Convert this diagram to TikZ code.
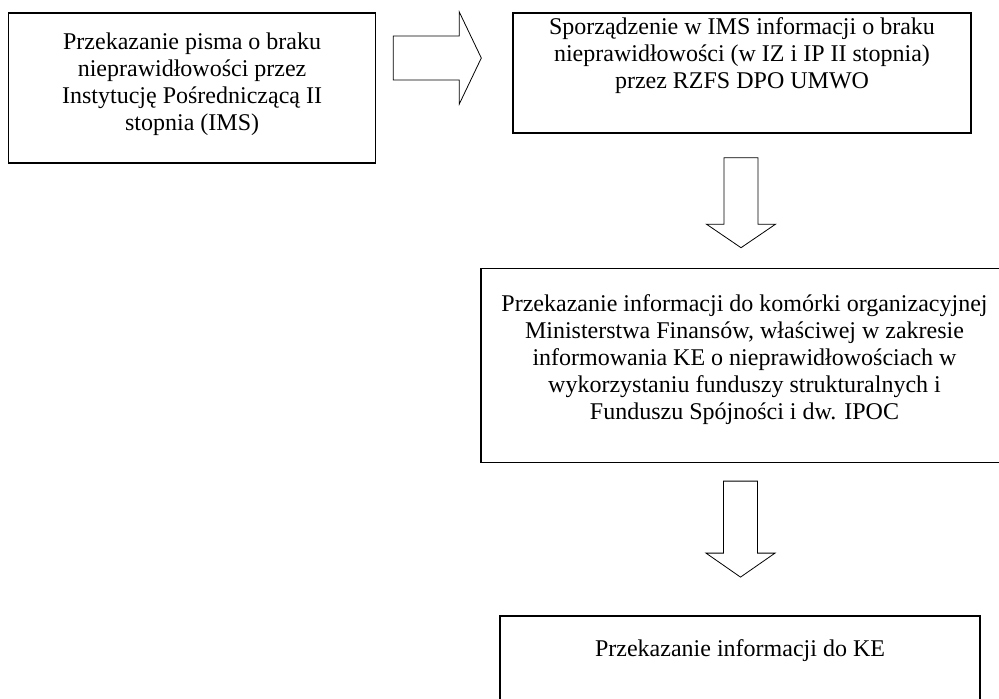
\documentclass[tikz,border=0pt]{standalone}
\usepackage{fontspec}
\setmainfont{Liberation Serif}
\usetikzlibrary{positioning, calc}
\tikzstyle{box} = [rectangle, draw=black, line width=0.7pt, inner sep=0pt]
\tikzstyle{txt} = [align=center, inner sep=0pt, font=\fontsize{12}{13.5}\selectfont]
% hollow block arrow: shaft half width, head half width, head length
\tikzset{fatarrow/.style n args={3}{draw, line width=0.4pt, to path={
  ($(\tikztostart)!#1!90:(\tikztotarget)$)
  -- ($(\tikztotarget)!#3!(\tikztostart)!#1!90:(\tikztotarget)$)
  -- ($(\tikztotarget)!#3!(\tikztostart)!#2!90:(\tikztotarget)$)
  -- (\tikztotarget)
  -- ($(\tikztotarget)!#3!(\tikztostart)!#2!-90:(\tikztotarget)$)
  -- ($(\tikztotarget)!#3!(\tikztostart)!#1!-90:(\tikztotarget)$)
  -- ($(\tikztostart)!#1!-90:(\tikztotarget)$)
  -- cycle}}}

\begin{document}
\begin{tikzpicture}[x=0.5pt, y=-0.5pt]
\useasboundingbox (0,0) rectangle (999,698);

\node (b2) [box, minimum width=229pt, minimum height=60pt] at (742,73) {};
\node (b1) [box, minimum width=183.5pt, minimum height=75pt, left=68pt of b2, yshift=-7.5pt] {};
\node (b3) [box, minimum width=270pt, minimum height=97pt, below=67pt of b2, xshift=4.5pt] {};
\node (b4) [box, minimum width=240pt, minimum height=50pt, below=76pt of b3, xshift=-5.5pt] {};

\node (t1) [txt, below=10pt of b1.north] {Przekazanie pisma o braku\\ nieprawidłowości przez\\ Instytucję Pośredniczącą II\\ stopnia (IMS)};
\node (t2) [txt, below=2.5pt of b2.north] {Sporządzenie w IMS informacji o braku\\ nieprawidłowości (w IZ i IP II stopnia)\\ przez RZFS DPO UMWO};
\node (t3) [txt, below=13pt of b3.north, xshift=-3.25pt] {Przekazanie informacji do komórki organizacyjnej\\ Ministerstwa Finansów, właściwej w zakresie\\ informowania KE o nieprawidłowościach w\\ wykorzystaniu funduszy strukturalnych i\\ Funduszu Spójności i dw. IPOC};
\node (t4) [txt, below=12pt of b4.north] {Przekazanie informacji do KE};

\coordinate (a1s) at ($(b1.east)+(17,-30)$);
\coordinate (a1e) at ($(b2.west)+(-31,-15)$);
\coordinate (a2s) at ($(b2.south)+(-1,24)$);
\coordinate (a2e) at ($(b3.north)+(-10,-20)$);
\coordinate (a3s) at ($(b3.south)+(-10.5,18)$);
\coordinate (a3e) at ($(b4.north)+(0.5,-38)$);

\draw [fatarrow={11pt}{23pt}{11pt}] (a1s) to (a1e);
\draw [fatarrow={8.5pt}{17.25pt}{11.75pt}] (a2s) to (a2e);
\draw [fatarrow={8.5pt}{17.25pt}{12pt}] (a3s) to (a3e);

\end{tikzpicture}
\end{document}
